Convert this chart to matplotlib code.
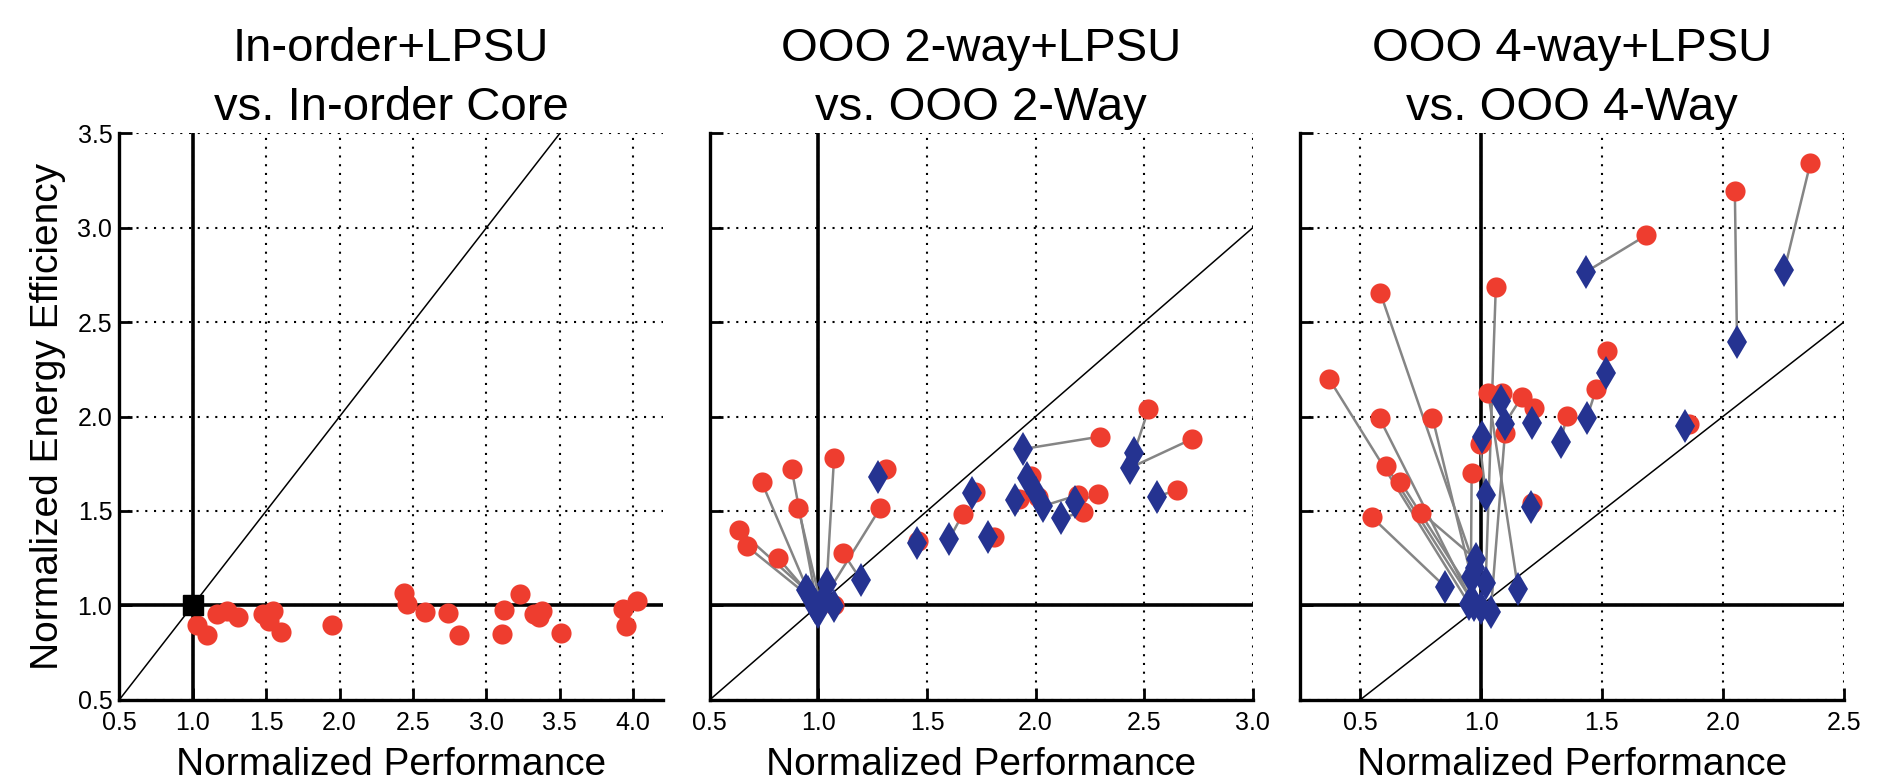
import matplotlib
matplotlib.use("Agg")
import matplotlib.pyplot as plt

plt.rcParams['font.family'] = ['Liberation Sans', 'DejaVu Sans']

# ---- data -------------------------------------------------------------
titles = ["In-order+LPSU\nvs. In-order Core",
          "OOO 2-way+LPSU\nvs. OOO 2-Way",
          "OOO 4-way+LPSU\nvs. OOO 4-Way"]
x_label = "Normalized Performance"
y_label = "Normalized Energy Efficiency"

# In-order + LPSU (one point per benchmark)
inorder_perf = [1.026, 1.094, 1.164, 1.232, 1.306, 1.480, 1.548, 1.519, 1.602,
                1.950, 2.437, 2.458, 2.582, 2.736, 2.815, 3.123, 3.105, 3.226,
                3.326, 3.359, 3.380, 3.506, 3.929, 3.952, 4.029]
inorder_eff = [0.895, 0.844, 0.956, 0.970, 0.936, 0.952, 0.972, 0.915, 0.861,
               0.895, 1.067, 1.007, 0.966, 0.962, 0.844, 0.976, 0.849, 1.061,
               0.956, 0.940, 0.970, 0.855, 0.980, 0.891, 1.021]

# OOO 2-way: LPSU configuration (circles) and its counterpart (diamonds)
ooo2_lpsu_perf = [0.633, 0.669, 0.816, 0.739, 0.877, 0.908, 1.072, 1.284, 1.115,
                  1.312, 1.459, 1.665, 1.721, 1.809, 1.926, 1.978, 2.297, 2.520,
                  2.720, 2.650, 2.013, 2.197, 2.289, 2.220, 1.070]
ooo2_lpsu_eff = [1.402, 1.315, 1.249, 1.653, 1.722, 1.514, 1.779, 1.514, 1.276,
                 1.721, 1.340, 1.484, 1.600, 1.361, 1.563, 1.685, 1.894, 2.039,
                 1.881, 1.611, 1.576, 1.585, 1.588, 1.496, 1.000]
ooo2_base_perf = [0.942, 0.965, 0.950, 0.985, 1.000, 1.010, 1.038, 1.025, 1.196,
                  1.276, 1.455, 1.602, 1.706, 1.779, 1.906, 1.960, 1.941, 2.454,
                  2.436, 2.558, 2.003, 2.036, 2.182, 2.116, 1.070]
ooo2_base_eff = [1.082, 1.040, 1.070, 0.990, 0.965, 1.010, 1.113, 1.035, 1.135,
                 1.678, 1.330, 1.350, 1.597, 1.361, 1.558, 1.676, 1.828, 1.809,
                 1.729, 1.576, 1.594, 1.527, 1.549, 1.461, 0.996]

# OOO 4-way: LPSU configuration (circles) and its counterpart (diamonds)
ooo4_lpsu_perf = [0.372, 0.608, 0.666, 0.583, 0.580, 0.799, 0.547, 0.753, 0.961,
                  1.061, 1.030, 1.086, 1.169, 1.099, 1.220, 1.000, 0.995, 1.355,
                  1.210, 1.519, 1.476, 1.683, 2.050, 2.363, 1.859]
ooo4_lpsu_eff = [2.198, 1.738, 1.655, 2.656, 1.991, 1.994, 1.469, 1.491, 1.703,
                 2.688, 2.123, 2.127, 2.105, 1.915, 2.044, 1.865, 1.855, 2.003,
                 1.541, 2.347, 2.145, 2.960, 3.195, 3.345, 1.959]
ooo4_base_perf = [0.951, 0.965, 1.000, 0.975, 0.970, 0.961, 0.850, 0.979, 0.958,
                  1.019, 1.153, 1.084, 1.097, 1.040, 1.209, 1.002, 1.020, 1.329,
                  1.206, 1.516, 1.437, 1.436, 2.059, 2.255, 1.844]
ooo4_base_eff = [1.006, 1.020, 0.986, 1.200, 1.000, 1.143, 1.100, 1.244, 1.149,
                 1.118, 1.088, 2.080, 1.961, 0.966, 1.965, 1.890, 1.584, 1.868,
                 1.523, 2.229, 1.990, 2.768, 2.397, 2.777, 1.949]

x_limits = [(0.5, 4.2), (0.5, 3.0), (0.25, 2.5)]
x_ticks = [[0.5, 1.0, 1.5, 2.0, 2.5, 3.0, 3.5, 4.0],
           [0.5, 1.0, 1.5, 2.0, 2.5, 3.0],
           [0.5, 1.0, 1.5, 2.0, 2.5]]
y_ticks = [0.5, 1.0, 1.5, 2.0, 2.5, 3.0, 3.5]

# ---- style ------------------------------------------------------------
RED = "#EE3D2F"
BLUE = "#253391"
GREY = "#858585"

W, H = 1877, 783
fig = plt.figure(figsize=(W / 100, H / 100), dpi=100)

lefts = [119.3, 709.8, 1299.8]
widths = [543.3, 542.9, 543.8]
top_px, bottom_px = 133.4, 699.8

axes = []
for i in range(3):
    ax = fig.add_axes([lefts[i] / W, 1 - bottom_px / H,
                       widths[i] / W, (bottom_px - top_px) / H])
    axes.append(ax)
    ax.set_xlim(*x_limits[i])
    ax.set_ylim(0.5, 3.5)
    ax.set_xticks(x_ticks[i])
    ax.set_yticks(y_ticks)
    ax.set_xticklabels([f"{t:.1f}" for t in x_ticks[i]])
    if i == 0:
        ax.set_yticklabels([f"{t:.1f}" for t in y_ticks])
    else:
        ax.set_yticklabels([])
    ax.tick_params(direction="in", length=9, width=2.0, labelsize=18,
                   top=False, right=False)
    ax.tick_params(axis="x", pad=8)
    ax.tick_params(axis="y", pad=5)
    if i == 0:
        ax.set_ylabel(y_label, fontsize=28, labelpad=8)
    ax.set_xlabel(x_label, fontsize=28, labelpad=9)
    ax.set_title(titles[i], fontsize=34, pad=10, linespacing=1.42)

    for s in ("top", "right"):
        ax.spines[s].set_visible(False)
    for s in ("left", "bottom"):
        ax.spines[s].set_linewidth(2.4)
    ax.grid(True, color="black", linewidth=1.5, linestyle=(0, (1, 3.2)))
    ax.set_axisbelow(True)

    # reference lines: baseline performance / efficiency and iso-line
    ax.axvline(1.0, color="black", linewidth=2.6, zorder=2)
    ax.axhline(1.0, color="black", linewidth=2.6, zorder=2)
    ax.plot([0.5, 4.5], [0.5, 4.5], color="black", linewidth=1.1, zorder=2)

# In-order panel
ax = axes[0]
ax.plot(inorder_perf, inorder_eff, linestyle="none", marker="o",
        markersize=14.5, color=RED, markeredgewidth=0, zorder=4)
ax.plot([1.0], [1.0], marker="s", markersize=14, color="black",
        linestyle="none", zorder=5)

# OOO panels: each LPSU point linked to its counterpart
for ax, lp, le, bp, be in [
        (axes[1], ooo2_lpsu_perf, ooo2_lpsu_eff, ooo2_base_perf, ooo2_base_eff),
        (axes[2], ooo4_lpsu_perf, ooo4_lpsu_eff, ooo4_base_perf, ooo4_base_eff)]:
    for x0, y0, x1, y1 in zip(lp, le, bp, be):
        ax.plot([x0, x1], [y0, y1], color=GREY, linewidth=1.8, zorder=3)
    ax.plot(lp, le, linestyle="none", marker="o", markersize=14.5, color=RED,
            markeredgewidth=0, zorder=4)
    ax.plot(bp, be, linestyle="none", marker="d", markersize=17, color=BLUE,
            markeredgewidth=0, zorder=5)

fig.savefig("out.png", dpi=100)
